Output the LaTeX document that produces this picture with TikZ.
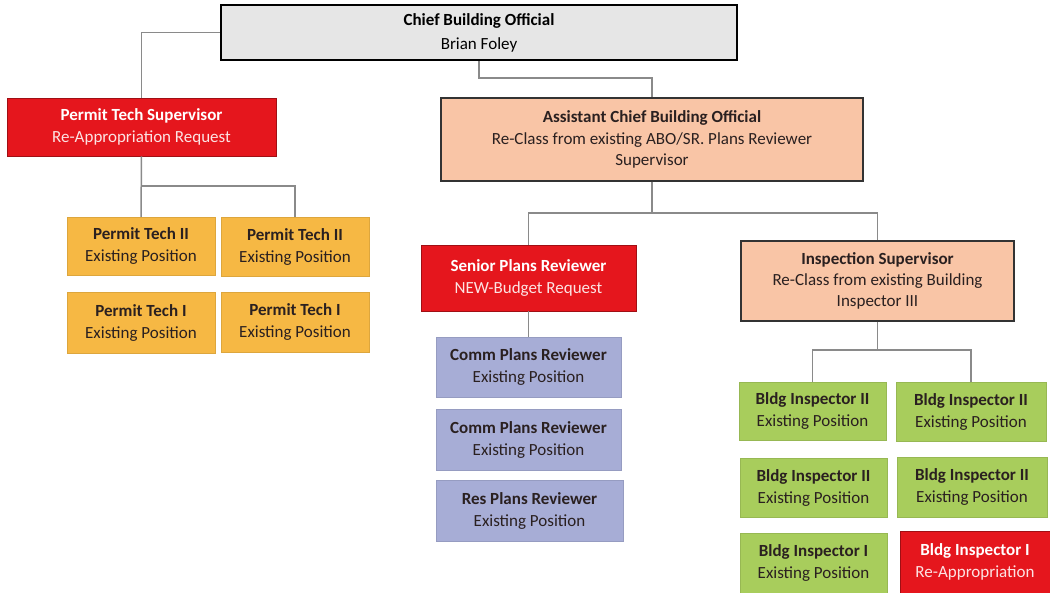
\documentclass[tikz,border=0pt]{standalone}
\usepackage{fontspec}
\setmainfont{Carlito}
\definecolor{cgray}{HTML}{E6E6E6}
\definecolor{cred}{HTML}{E5161D}
\definecolor{cpeach}{HTML}{F9C5A6}
\definecolor{corange}{HTML}{F6B844}
\definecolor{clav}{HTML}{A7ADD6}
\definecolor{cgreen}{HTML}{A8CD5C}
\definecolor{cline}{HTML}{8A8A8A}
\definecolor{ctext}{HTML}{2A2020}
\definecolor{cpink}{HTML}{FCE3E3}
\tikzset{
  x=1pt, y=-1pt,
  box/.style={rectangle, inner sep=0pt, align=center, text=ctext,
    font=\fontsize{17}{22}\selectfont},
  chiefbox/.style={box, fill=cgray, draw=black, line width=2.5pt, text=black},
  redbox/.style={box, fill=cred, draw=cred!70!black, line width=0.8pt, text=white},
  peachbox/.style={box, fill=cpeach, draw=black!80, line width=1.2pt},
  orangebox/.style={box, fill=corange, draw=corange!90!black, line width=0.4pt},
  lavbox/.style={box, fill=clav, draw=clav!90!black, line width=0.4pt},
  greenbox/.style={box, fill=cgreen, draw=cgreen!90!black, line width=0.4pt},
  conn/.style={draw=cline, line width=1.5pt},
  sz/.style 2 args={minimum width=#1pt, minimum height=#2pt}
}
\newcommand{\tl}[1]{\textbf{#1}}
\begin{document}
\begin{tikzpicture}
\useasboundingbox[fill=white] (0,0) rectangle (1050,593);
% nodes
\node[chiefbox, sz={516}{55}, font=\fontsize{17}{24}\selectfont] (chief) at (479,32.5) {\tl{Chief Building Official}\\Brian Foley};
\node[redbox, sz={269}{58}] (pts) at (141.5,127) {\tl{Permit Tech Supervisor}\\\textcolor{cpink}{Re-Appropriation Request}};
\node[peachbox, sz={422}{83}, font=\fontsize{17}{21.5}\selectfont] (acbo) at (652,139.5) {\tl{Assistant Chief Building Official}\\Re-Class from existing ABO/SR. Plans Reviewer\\Supervisor};
\node[orangebox, sz={148}{58}] (pt2a) at (141,246) {\tl{Permit Tech II}\\Existing Position};
\node[orangebox, sz={148}{59}] (pt2b) at (295,246.5) {\tl{Permit Tech II}\\Existing Position};
\node[orangebox, sz={148}{61}] (pt1a) at (141,322.5) {\tl{Permit Tech I}\\Existing Position};
\node[orangebox, sz={148}{60}] (pt1b) at (295,322) {\tl{Permit Tech I}\\Existing Position};
\node[redbox, sz={215}{66}] (spr) at (528.5,278) {\tl{Senior Plans Reviewer}\\\textcolor{cpink}{NEW-Budget Request}};
\node[peachbox, sz={273}{80}, font=\fontsize{17}{21}\selectfont] (isup) at (877.5,281) {\tl{Inspection Supervisor}\\Re-Class from existing Building\\Inspector III};
\node[lavbox, sz={185}{60}] (cpr1) at (528.5,367) {\tl{Comm Plans Reviewer}\\Existing Position};
\node[lavbox, sz={185}{61}] (cpr2) at (528.5,439.5) {\tl{Comm Plans Reviewer}\\Existing Position};
\node[lavbox, sz={187}{61}] (rpr) at (529.5,510.5) {\tl{Res Plans Reviewer}\\Existing Position};
\node[greenbox, sz={147}{58}] (bi2a) at (812.5,411) {\tl{Bldg Inspector II}\\Existing Position};
\node[greenbox, sz={150}{59}] (bi2b) at (971,411.5) {\tl{Bldg Inspector II}\\Existing Position};
\node[greenbox, sz={147}{59}] (bi2c) at (813.5,487.5) {\tl{Bldg Inspector II}\\Existing Position};
\node[greenbox, sz={150}{60}] (bi2d) at (972,487) {\tl{Bldg Inspector II}\\Existing Position};
\node[greenbox, sz={147}{60}] (bi1a) at (813.5,563) {\tl{Bldg Inspector I}\\Existing Position};
\node[redbox, sz={150}{62}] (bi1b) at (975,562) {\tl{Bldg Inspector I}\\\textcolor{cpink}{Re-Appropriation}};
% junctions
\coordinate (j1) at (479,78);
\coordinate (j2) at (141.5,186);
\coordinate (j3) at (652,213);
\coordinate (j4) at (877.5,350);
% connectors
\draw[conn] (chief.west) -| (pts.north);
\draw[conn] (chief.south) -- (j1) -| (acbo.north);
\draw[conn] (pts.south) -- (pt2a.north);
\draw[conn] (j2) -| (pt2b.north);
\draw[conn] (acbo.south) -- (j3);
\draw[conn] (spr.north) |- (j3) -| (isup.north);
\draw[conn] (spr.south) -- (cpr1.north);
\draw[conn] (isup.south) -- (j4);
\draw[conn] (bi2a.north) |- (j4) -| (bi2b.north);
\end{tikzpicture}
\end{document}
